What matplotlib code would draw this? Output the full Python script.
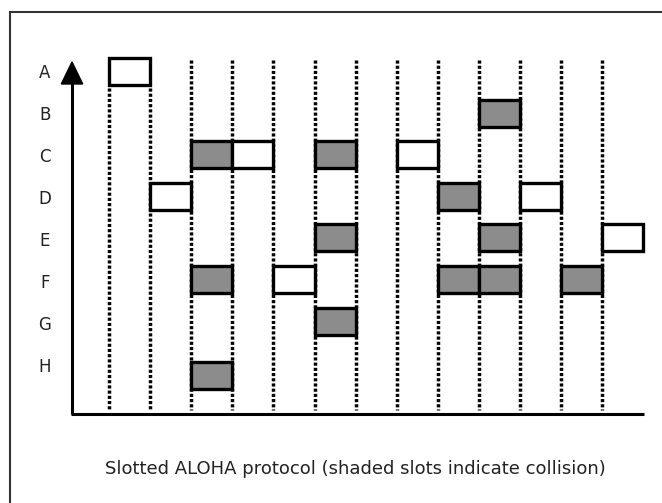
import matplotlib
matplotlib.use("Agg")
import matplotlib.pyplot as plt
from matplotlib.patches import Rectangle, Polygon
from matplotlib.lines import Line2D

# stations and their transmissions (slot index, collided or not)
stations = ['A', 'B', 'C', 'D', 'E', 'F', 'G', 'H']
tx_station = ['A', 'B', 'C', 'C', 'C', 'C', 'D', 'D', 'D',
              'E', 'E', 'E', 'F', 'F', 'F', 'F', 'F', 'G', 'H']
tx_slot = [0, 9, 2, 3, 5, 7, 1, 8, 10,
           5, 9, 12, 2, 4, 8, 9, 11, 5, 2]
tx_collided = [False, True, True, False, True, False, False, True, False,
               True, True, False, True, False, True, True, True, True, True]
slot_bounds = list(range(13))
caption = "Slotted ALOHA protocol (shaded slots indicate collision)"

# layout (row positions of boxes; H sits a little lower)
box_row = {'A': 0, 'B': 1, 'C': 2, 'D': 3, 'E': 4, 'F': 5, 'G': 6, 'H': 7.3}
box_h = 0.65
gray = '#8c8c8c'

W, H = 662, 503
fig = plt.figure(figsize=(W / 100, H / 100), dpi=100)
ax = fig.add_axes([0, 0, 1, 1])
slot_px, row_px = 41.1, 41.6
x0_px, y0_px = 109, 71.5
ax.set_xlim(-x0_px / slot_px, (W - x0_px) / slot_px)
ax.set_ylim((H - y0_px) / row_px, -y0_px / row_px)
ax.axis('off')

# outer frame (top and left only visible)
fig.add_artist(Line2D([10 / W, 1], [1 - 12 / H, 1 - 12 / H], color='#333333', lw=1.5,
                      transform=fig.transFigure))
fig.add_artist(Line2D([10 / W, 10 / W], [0, 1 - 12 / H], color='#333333', lw=1.5,
                      transform=fig.transFigure))

# dotted slot boundaries
for s in slot_bounds:
    top = 0.4 if s in (0, 1) else -0.28
    ax.plot([s, s], [top, 8.14], color='black', lw=2.5,
            linestyle=(0, (0.9, 0.6)), dash_capstyle='butt', zorder=1)

# axes: vertical arrow and horizontal line
ax_x = -0.9
ax_y = 8.23
ax.plot([ax_x, ax_x], [ax_y, 0.2], color='black', lw=2.2, solid_capstyle='butt', zorder=3)
ax.plot([ax_x - 0.03, 13.02], [ax_y, ax_y], color='black', lw=2.2, solid_capstyle='butt', zorder=3)
ax.add_patch(Polygon([[ax_x - 0.26, 0.3], [ax_x + 0.26, 0.3], [ax_x, -0.23]],
                     closed=True, color='black', zorder=3))

# station labels
for i, name in enumerate(stations):
    ax.text(-1.557, i * 1.01 + 0.04, name, ha='center', va='center',
            fontsize=12, color='#222222')

# transmission boxes
for st, sl, col in zip(tx_station, tx_slot, tx_collided):
    y = box_row[st]
    ax.add_patch(Rectangle((sl, y - box_h / 2), 1, box_h,
                           facecolor=gray if col else 'white',
                           edgecolor='black', lw=2.4, zorder=4))

ax.text(6.0, (469 - y0_px) / row_px, caption, ha='center', va='center',
        fontsize=13, color='#222222')

fig.savefig('out.png', dpi=100)
